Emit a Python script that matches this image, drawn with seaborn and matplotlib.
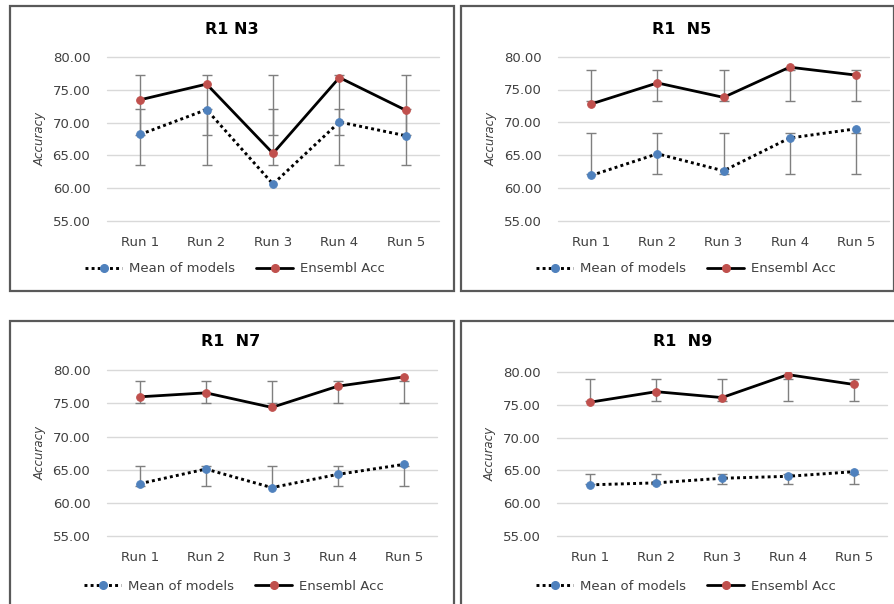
import numpy as np
import pandas as pd
import seaborn as sns
import matplotlib.pyplot as plt
from matplotlib.patches import Rectangle
from matplotlib.lines import Line2D
from matplotlib.ticker import FormatStrFormatter

runs = ['Run 1', 'Run 2', 'Run 3', 'Run 4', 'Run 5']

n3_mean = [68.2, 72.0, 60.6, 70.1, 68.0]
n3_ens = [73.5, 75.9, 65.3, 76.9, 71.9]
n5_mean = [61.9, 65.2, 62.6, 67.6, 69.0]
n5_ens = [72.8, 76.0, 73.8, 78.4, 77.2]
n7_mean = [62.9, 65.1, 62.3, 64.3, 65.8]
n7_ens = [76.0, 76.6, 74.4, 77.6, 79.0]
n9_mean = [62.8, 63.1, 63.8, 64.1, 64.8]
n9_ens = [75.4, 77.0, 76.1, 79.6, 78.1]

titles = ['R1 N3', 'R1  N5', 'R1  N7', 'R1  N9']
yticks = [55, 60, 65, 70, 75, 80]

BLUE = '#4F81BD'
RED = '#C0504D'
GREY = '#595959'
DOTS = (0, (1, 1.1))

W, H = 895, 604

sns.set_style('white')
plt.rcParams['font.family'] = ['DejaVu Sans']

fig = plt.figure(figsize=(W / 100, H / 100), dpi=100)


def px_rect(x0, y0, x1, y1):
    # pixel box (top-left origin) -> figure fraction [left, bottom, width, height]
    return [x0 / W, 1 - y1 / H, (x1 - x0) / W, (y1 - y0) / H]


# layout in pixels: axes box, frame box, title centre, legend centre
layout = [
    ((107, 57.3, 439, 220.7), (10, 6, 454, 290.7), (232, 29), (235, 269)),
    ((558.3, 56.7, 888.7, 220.7), (460.7, 6, 894, 290.7), (682, 29), (686, 269)),
    ((107, 370.3, 436.7, 536), (10, 320.7, 454, 640), (231, 342), (234, 586)),
    ((557.3, 372, 886.7, 536), (460.7, 320.7, 940, 640), (683, 342), (686, 586)),
]
data = [(n3_mean, n3_ens), (n5_mean, n5_ens), (n7_mean, n7_ens), (n9_mean, n9_ens)]


def draw_panel(ax, mean_vals, ens_vals):
    sns.lineplot(x=runs, y=mean_vals, ax=ax, sort=False, color='black',
                 linestyle=DOTS, linewidth=2.1, marker='o', markersize=5.5,
                 markerfacecolor=BLUE, markeredgecolor=BLUE, zorder=4)
    sns.lineplot(x=runs, y=ens_vals, ax=ax, sort=False, color='black',
                 linewidth=2.0, marker='o', markersize=5.5,
                 markerfacecolor=RED, markeredgecolor=RED, zorder=4)
    # excel style std-dev error bars, centred on the series average
    for vals in (mean_vals, ens_vals):
        avg = np.mean(vals)
        sd = np.std(vals, ddof=1)
        ax.errorbar(runs, [avg] * len(runs), yerr=sd, fmt='none', ecolor='#7f7f7f',
                    elinewidth=1.0, capsize=3.5, capthick=1.0, zorder=3)
    ax.set_xlim(-0.5, len(runs) - 0.5)
    ax.set_ylim(55, 80)
    ax.set_yticks(yticks)
    ax.yaxis.set_major_formatter(FormatStrFormatter('%.2f'))
    ax.yaxis.grid(True, color='#d9d9d9', linewidth=1)
    for gl in ax.get_ygridlines():
        gl.set_clip_on(False)
    ax.set_axisbelow(True)
    sns.despine(ax=ax, left=True, bottom=True)
    ax.tick_params(axis='both', length=0, labelsize=9.5, labelcolor='#404040')
    ax.tick_params(axis='y', pad=12)
    ax.tick_params(axis='x', pad=11)
    ax.set_xlabel('')
    ax.set_ylabel('')


for (axbox, frame, tpos, lpos), title, (mv, ev) in zip(layout, titles, data):
    ax = fig.add_axes(px_rect(*axbox))
    draw_panel(ax, mv, ev)
    fr = px_rect(*frame)
    fig.add_artist(Rectangle(fr[:2], fr[2], fr[3], transform=fig.transFigure, fill=False,
                             edgecolor=GREY, linewidth=1.6, clip_on=False))
    fig.text(tpos[0] / W, 1 - tpos[1] / H, title, ha='center', va='center',
             fontsize=11.5, fontweight='bold', color='black')
    fig.text((axbox[0] - 67) / W, 1 - (axbox[1] + axbox[3]) / 2 / H, 'Accuracy',
             rotation=90, ha='center', va='center', fontsize=8.5, style='italic', color='#404040')
    handles = [
        Line2D([], [], color='black', linestyle=DOTS, linewidth=2.1, marker='o',
               markersize=5.5, markerfacecolor=BLUE, markeredgecolor=BLUE),
        Line2D([], [], color='black', linewidth=2.0, marker='o',
               markersize=5.5, markerfacecolor=RED, markeredgecolor=RED),
    ]
    fig.legend(handles, ['Mean of models', 'Ensembl Acc'], loc='center', ncol=2,
               bbox_to_anchor=(lpos[0] / W, 1 - lpos[1] / H), bbox_transform=fig.transFigure,
               frameon=False, fontsize=9.5, handlelength=2.8, handletextpad=0.5,
               columnspacing=1.6, labelcolor='#404040')

fig.savefig('out.png', dpi=100)
